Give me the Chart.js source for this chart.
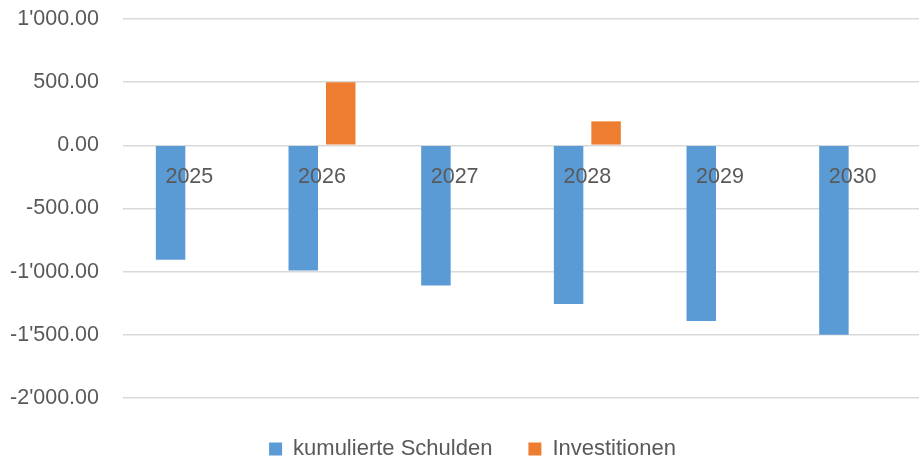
<!DOCTYPE html>
<html>
<head>
<meta charset="utf-8">
<script src="https://cdn.jsdelivr.net/npm/chart.js@4/dist/chart.umd.min.js"></script>
<style>
html,body{margin:0;padding:0;background:#fff;}
#c{display:block;}
</style>
</head>
<body>
<canvas id="c" width="919" height="462"></canvas>
<script>
const categories = ['2025', '2026', '2027', '2028', '2029', '2030'];
const schulden = [-905, -990, -1110, -1255, -1390, -1500];
const investitionen = [0, 500, 0, 190, 0, 0];
const seriesNames = ['kumulierte Schulden', 'Investitionen'];
const yMin = -2000, yMax = 1000, yStep = 500;

function fmt(v) {
  const neg = v < 0;
  const parts = Math.abs(v).toFixed(2).split('.');
  const intPart = parts[0].replace(/\B(?=(\d{3})+(?!\d))/g, "'");
  return (neg ? '-' : '') + intPart + '.' + parts[1];
}

const FONT = 'Liberation Sans';
const TXT = '#595959';

// Category labels drawn at the zero line, on top of the bars (like Excel "axis at 0")
const zeroAxisLabels = {
  id: 'zeroAxisLabels',
  afterLayout(chart) {
    const lg = chart.legend;
    if (lg) { lg.left += 13; lg.right += 13; lg.top += 4; lg.bottom += 4; }
  },
  afterDatasetsDraw(chart) {
    const { ctx, scales: { x, y } } = chart;
    const y0 = y.getPixelForValue(0);
    ctx.save();
    ctx.fillStyle = TXT;
    ctx.font = '21.5px "' + FONT + '"';
    ctx.textAlign = 'center';
    ctx.textBaseline = 'middle';
    chart.data.labels.forEach((lab, i) => {
      ctx.fillText(lab, x.getPixelForValue(i), y0 + 32);
    });
    ctx.restore();
  }
};

new Chart(document.getElementById('c'), {
  type: 'bar',
  data: {
    labels: categories,
    datasets: [
      { label: seriesNames[0], data: schulden, backgroundColor: '#5b9bd5', borderWidth: 0 },
      { label: seriesNames[1], data: investitionen, backgroundColor: '#ed7d31', borderWidth: 0 }
    ]
  },
  plugins: [zeroAxisLabels],
  options: {
    responsive: false,
    animation: false,
    devicePixelRatio: 1,
    categoryPercentage: 0.565,
    barPercentage: 0.787,
    layout: { padding: { top: 0, right: 0, bottom: -4, left: 0 } },
    plugins: {
      tooltip: { enabled: false },
      legend: {
        position: 'bottom',
        labels: {
          boxWidth: 13,
          boxHeight: 13,
          padding: 36,
          color: TXT,
          font: { family: FONT, size: 22 }
        }
      }
    },
    scales: {
      x: {
        display: false
      },
      y: {
        min: yMin,
        max: yMax,
        afterFit: (s) => { s.width = 123; s.paddingTop = 19; },
        grid: { color: '#d9d9d9', lineWidth: 1.5, drawTicks: false },
        border: { display: false },
        ticks: {
          stepSize: yStep,
          padding: 24,
          color: TXT,
          font: { family: FONT, size: 21.5 },
          callback: (v) => fmt(v)
        }
      }
    }
  }
});
</script>
</body>
</html>
